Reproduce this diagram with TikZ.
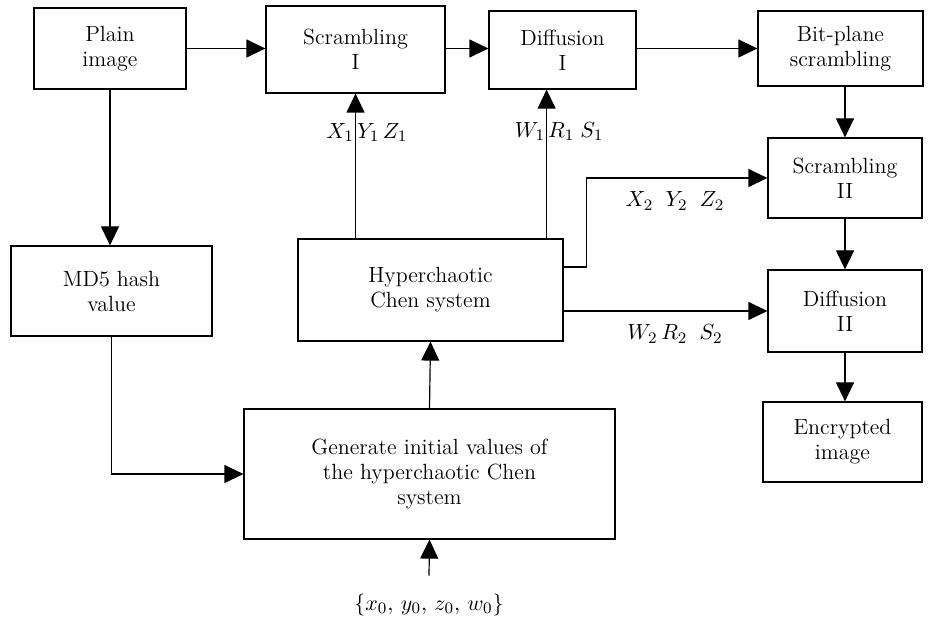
\documentclass[tikz,border=0pt]{standalone}
\usetikzlibrary{positioning,arrows.meta}

\begin{document}
\begin{tikzpicture}[x=0.5pt,y=-0.5pt,
  block/.style={rectangle,draw,line width=0.6pt,align=center,inner sep=2pt,
                font=\fontsize{11}{12.5}\selectfont},
  arr/.style={line width=0.6pt,-{Triangle[length=9.5pt,width=9pt]}},
  vlabel/.style={font=\fontsize{11}{12}\selectfont,inner sep=1.5pt},
]
\useasboundingbox (0,0) rectangle (941,619);

% === Top row ===
\node[block,minimum width=76pt,minimum height=40.5pt] (plain) at (110,48.5) {Plain\\image};
\node[block,minimum width=89.5pt,minimum height=43.5pt] (scrI) at (355.5,49.5) {Scrambling\\I};
\node[block,minimum width=73.5pt,minimum height=39pt] (diffI) at (562.5,50) {Diffusion\\I};
\node[block,minimum width=82.5pt,minimum height=37.5pt] (bitplane) at (840.5,48.5) {Bit-plane\\scrambling};

% === Right column ===
\node[block,minimum width=77pt,minimum height=40pt] (scrII) at (845,178) {Scrambling\\II};
\node[block,minimum width=77pt,minimum height=41pt] (diffII) at (845,311) {Diffusion\\II};
\node[block,minimum width=79.5pt,minimum height=40pt] (encrypted) at (842.5,442) {Encrypted\\image};

% === Key generation ===
\node[block,minimum width=100.5pt,minimum height=45pt] (md5) at (111.5,291) {MD5 hash\\value};
\node[block,minimum width=132.5pt,minimum height=51pt] (chen) at (430.5,290) {Hyperchaotic\\Chen system};
\node[block,minimum width=185.5pt,minimum height=65pt] (geninit) at (429.5,474)
  {Generate initial values of\\the hyperchaotic Chen\\system};
\node[vlabel] (initset) at (429,605) {$\{x_0,\, y_0,\, z_0,\, w_0\}$};

% main flow
\draw[arr] (plain.east) -- (plain.east -| scrI.west);
\draw[arr] (plain.east -| scrI.east) -- (plain.east -| diffI.west);
\draw[arr] (plain.east -| diffI.east) -- (plain.east -| bitplane.west);
\draw[arr] (bitplane.south -| scrII) -- (scrII.north);
\draw[arr] (scrII) -- (diffII);
\draw[arr] (diffII.south) -- (diffII.south |- encrypted.north);

% key stream
\draw[arr] (plain.south) -- (plain.south |- md5.north);
\draw[arr] (md5.south) |- (geninit.west);
\draw[arr] ([yshift=7.5pt]initset.north) -- (geninit.south);
\draw[arr] (geninit.north) -- (chen.south);

\draw[arr] (chen.north -| scrI) -- (scrI.south)
  node[vlabel,pos=0.73,left=-1pt] {$X_1$}
  node[vlabel,pos=0.73,right=-1pt] {$Y_1\,Z_1$};
\draw[arr] ([xshift=-8.5pt]chen.north east) -- ([xshift=-8.5pt]chen.north east |- diffI.south)
  node[vlabel,pos=0.72,left=-1pt] {$W_1$}
  node[vlabel,pos=0.72,right=-1pt] {$R_1\;S_1$};
\draw[arr] ([yshift=11.5pt]chen.east) -- ++(23,0) |- (scrII.west);
\draw[arr] (chen.east |- diffII.west) -- (diffII.west);

\node[vlabel] (xyz2) at (675,201) {$X_2\;\;Y_2\;\;Z_2$};
\node[vlabel] (wrs2) at (675,334) {$W_2\,R_2\;\;S_2$};

\end{tikzpicture}
\end{document}
